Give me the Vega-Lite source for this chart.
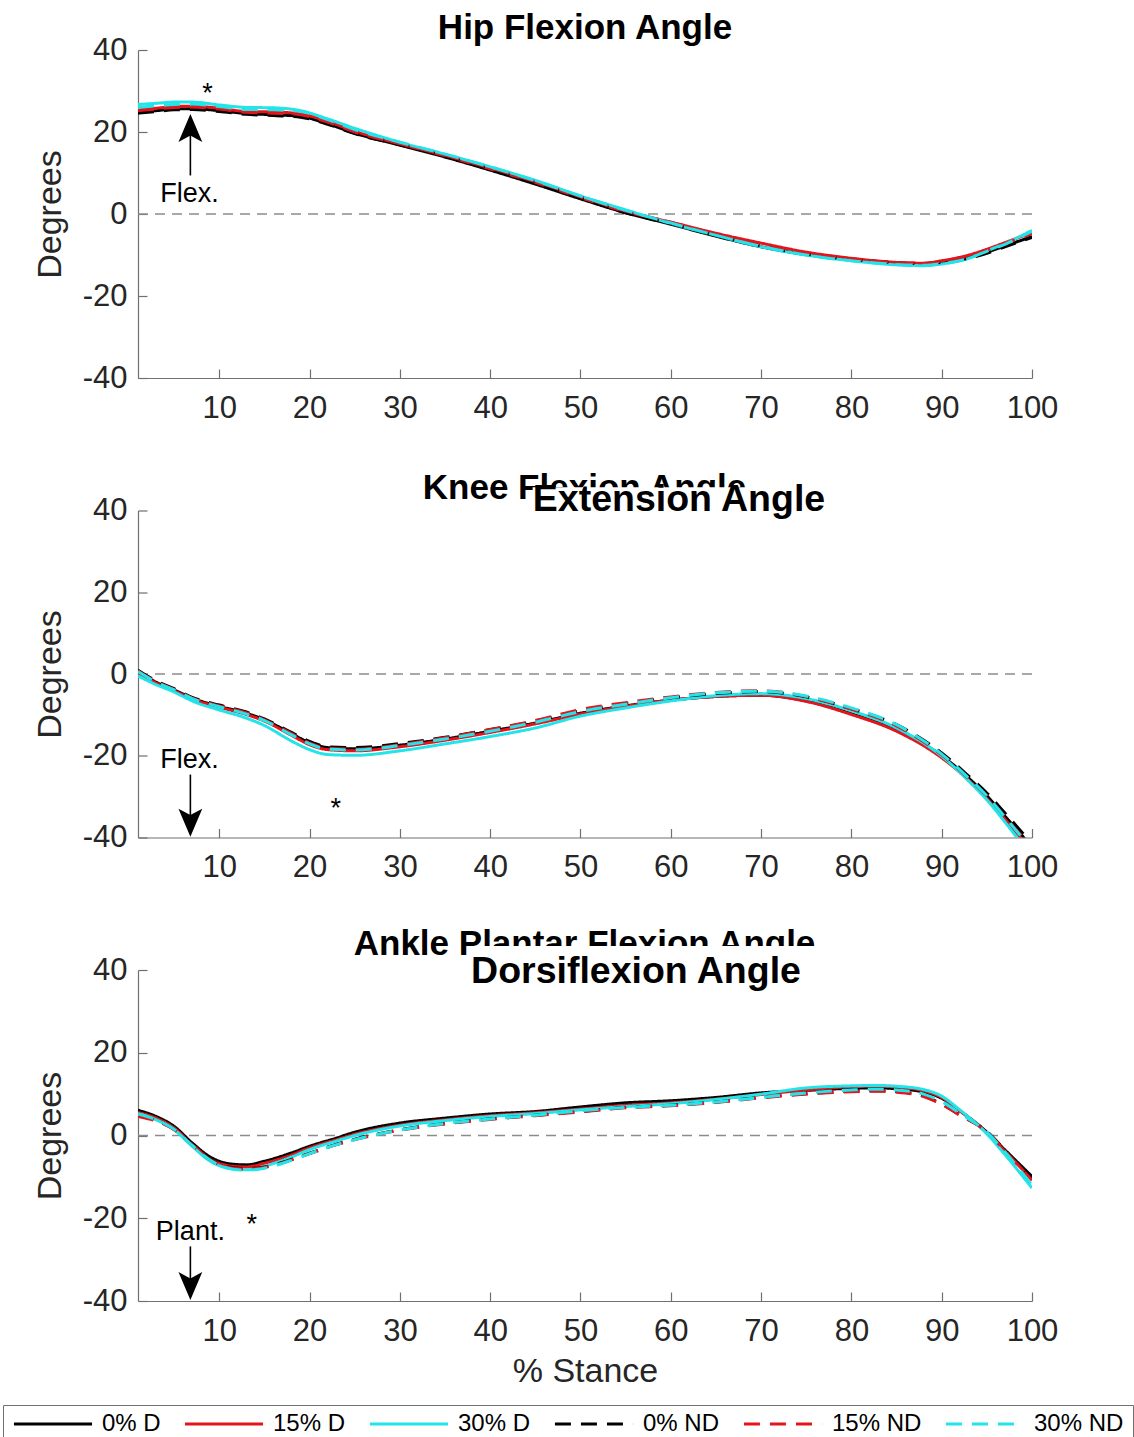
{
  "$schema": "https://vega.github.io/schema/vega-lite/v6.json",
  "autosize": {"type": "pad"},
  "padding": {"left": 2, "top": 10, "right": 2, "bottom": 0},
  "background": "white",
  "datasets": {
    "hip": [
      {"x":1,"0% D":24.8,"15% D":25.4,"30% D":26.7,"0% ND":24.6,"15% ND":25.2,"30% ND":26.0},
      {"x":3,"0% D":25.2,"15% D":25.8,"30% D":27.0,"0% ND":25.0,"15% ND":25.6,"30% ND":26.4},
      {"x":5,"0% D":25.6,"15% D":26.2,"30% D":27.3,"0% ND":25.4,"15% ND":26.0,"30% ND":26.7},
      {"x":7,"0% D":25.7,"15% D":26.3,"30% D":27.3,"0% ND":25.5,"15% ND":26.1,"30% ND":26.8},
      {"x":10,"0% D":25.2,"15% D":25.8,"30% D":26.6,"0% ND":25.0,"15% ND":25.6,"30% ND":26.2},
      {"x":13,"0% D":24.5,"15% D":25.0,"30% D":26.0,"0% ND":24.3,"15% ND":24.8,"30% ND":25.5},
      {"x":16,"0% D":24.2,"15% D":24.9,"30% D":25.9,"0% ND":24.0,"15% ND":24.6,"30% ND":25.4},
      {"x":19,"0% D":23.8,"15% D":24.4,"30% D":25.2,"0% ND":23.6,"15% ND":24.2,"30% ND":25.0},
      {"x":22,"0% D":22.0,"15% D":22.6,"30% D":23.2,"0% ND":21.9,"15% ND":22.4,"30% ND":23.0},
      {"x":25,"0% D":19.7,"15% D":20.2,"30% D":20.9,"0% ND":19.6,"15% ND":20.0,"30% ND":20.6},
      {"x":30,"0% D":16.8,"15% D":17.1,"30% D":17.5,"0% ND":16.9,"15% ND":17.1,"30% ND":17.5},
      {"x":35,"0% D":13.9,"15% D":14.2,"30% D":14.6,"0% ND":14.1,"15% ND":14.3,"30% ND":14.6},
      {"x":40,"0% D":10.7,"15% D":11.0,"30% D":11.5,"0% ND":10.9,"15% ND":11.2,"30% ND":11.5},
      {"x":45,"0% D":7.3,"15% D":7.7,"30% D":8.2,"0% ND":7.5,"15% ND":7.9,"30% ND":8.1},
      {"x":50,"0% D":3.7,"15% D":4.0,"30% D":4.4,"0% ND":3.9,"15% ND":4.2,"30% ND":4.4},
      {"x":55,"0% D":0.3,"15% D":0.6,"30% D":1.0,"0% ND":0.3,"15% ND":0.7,"30% ND":0.9},
      {"x":60,"0% D":-2.5,"15% D":-2.0,"30% D":-2.3,"0% ND":-2.3,"15% ND":-2.0,"30% ND":-2.2},
      {"x":65,"0% D":-5.4,"15% D":-4.7,"30% D":-5.2,"0% ND":-5.2,"15% ND":-4.9,"30% ND":-5.2},
      {"x":70,"0% D":-8.0,"15% D":-7.1,"30% D":-8.0,"0% ND":-7.8,"15% ND":-7.4,"30% ND":-7.9},
      {"x":75,"0% D":-9.9,"15% D":-9.3,"30% D":-10.0,"0% ND":-9.8,"15% ND":-9.5,"30% ND":-10.0},
      {"x":80,"0% D":-11.2,"15% D":-10.8,"30% D":-11.4,"0% ND":-11.1,"15% ND":-10.9,"30% ND":-11.4},
      {"x":85,"0% D":-12.0,"15% D":-11.8,"30% D":-12.4,"0% ND":-11.9,"15% ND":-11.8,"30% ND":-12.3},
      {"x":88,"0% D":-12.2,"15% D":-12.0,"30% D":-12.6,"0% ND":-12.1,"15% ND":-12.0,"30% ND":-12.5},
      {"x":90,"0% D":-11.8,"15% D":-11.4,"30% D":-12.2,"0% ND":-11.8,"15% ND":-11.5,"30% ND":-12.1},
      {"x":93,"0% D":-10.6,"15% D":-10.0,"30% D":-10.8,"0% ND":-10.8,"15% ND":-10.2,"30% ND":-10.8},
      {"x":95,"0% D":-9.3,"15% D":-8.6,"30% D":-9.0,"0% ND":-9.6,"15% ND":-8.8,"30% ND":-9.1},
      {"x":97,"0% D":-7.8,"15% D":-7.0,"30% D":-7.2,"0% ND":-8.0,"15% ND":-7.2,"30% ND":-7.4},
      {"x":100,"0% D":-5.5,"15% D":-4.5,"30% D":-4.0,"0% ND":-5.7,"15% ND":-4.8,"30% ND":-4.2}
    ],
    "knee": [
      {"x":1,"0% D":0.6,"15% D":0.4,"30% D":-0.5,"0% ND":0.9,"15% ND":0.7,"30% ND":0.6},
      {"x":3,"0% D":-2.0,"15% D":-2.2,"30% D":-2.6,"0% ND":-1.7,"15% ND":-1.9,"30% ND":-2.0},
      {"x":5,"0% D":-3.9,"15% D":-4.1,"30% D":-4.4,"0% ND":-3.6,"15% ND":-3.8,"30% ND":-3.9},
      {"x":7,"0% D":-5.9,"15% D":-6.1,"30% D":-6.6,"0% ND":-5.7,"15% ND":-5.9,"30% ND":-6.0},
      {"x":10,"0% D":-7.9,"15% D":-8.1,"30% D":-8.8,"0% ND":-7.6,"15% ND":-7.8,"30% ND":-8.0},
      {"x":13,"0% D":-9.6,"15% D":-9.9,"30% D":-10.8,"0% ND":-9.3,"15% ND":-9.5,"30% ND":-9.8},
      {"x":15,"0% D":-11.2,"15% D":-11.5,"30% D":-12.6,"0% ND":-11.0,"15% ND":-11.2,"30% ND":-11.4},
      {"x":18,"0% D":-14.6,"15% D":-15.0,"30% D":-16.4,"0% ND":-14.3,"15% ND":-14.6,"30% ND":-14.9},
      {"x":20,"0% D":-16.8,"15% D":-17.3,"30% D":-18.5,"0% ND":-16.5,"15% ND":-16.9,"30% ND":-17.1},
      {"x":22,"0% D":-18.0,"15% D":-18.5,"30% D":-19.7,"0% ND":-17.8,"15% ND":-18.2,"30% ND":-18.4},
      {"x":25,"0% D":-18.3,"15% D":-18.8,"30% D":-19.9,"0% ND":-18.0,"15% ND":-18.4,"30% ND":-18.6},
      {"x":30,"0% D":-17.4,"15% D":-17.8,"30% D":-18.8,"0% ND":-17.0,"15% ND":-17.3,"30% ND":-17.5},
      {"x":35,"0% D":-15.9,"15% D":-16.2,"30% D":-17.1,"0% ND":-15.5,"15% ND":-15.6,"30% ND":-15.9},
      {"x":40,"0% D":-14.0,"15% D":-14.3,"30% D":-15.3,"0% ND":-13.6,"15% ND":-13.6,"30% ND":-14.0},
      {"x":45,"0% D":-12.0,"15% D":-12.2,"30% D":-13.2,"0% ND":-11.5,"15% ND":-11.4,"30% ND":-11.8},
      {"x":50,"0% D":-9.6,"15% D":-9.8,"30% D":-10.3,"0% ND":-9.0,"15% ND":-8.7,"30% ND":-9.2},
      {"x":55,"0% D":-7.8,"15% D":-7.9,"30% D":-8.3,"0% ND":-7.2,"15% ND":-7.0,"30% ND":-7.4},
      {"x":60,"0% D":-6.4,"15% D":-6.4,"30% D":-6.6,"0% ND":-5.8,"15% ND":-5.6,"30% ND":-5.8},
      {"x":65,"0% D":-5.5,"15% D":-5.5,"30% D":-5.3,"0% ND":-4.8,"15% ND":-4.5,"30% ND":-4.6},
      {"x":70,"0% D":-5.2,"15% D":-5.2,"30% D":-4.8,"0% ND":-4.3,"15% ND":-4.1,"30% ND":-4.2},
      {"x":75,"0% D":-6.6,"15% D":-6.7,"30% D":-6.0,"0% ND":-5.6,"15% ND":-5.5,"30% ND":-5.4},
      {"x":80,"0% D":-9.7,"15% D":-9.9,"30% D":-9.0,"0% ND":-8.5,"15% ND":-8.6,"30% ND":-8.3},
      {"x":85,"0% D":-13.8,"15% D":-14.0,"30% D":-13.2,"0% ND":-12.4,"15% ND":-12.7,"30% ND":-12.4},
      {"x":90,"0% D":-20.0,"15% D":-20.5,"30% D":-20.1,"0% ND":-19.3,"15% ND":-19.8,"30% ND":-19.6},
      {"x":93,"0% D":-25.5,"15% D":-26.0,"30% D":-26.2,"0% ND":-25.0,"15% ND":-25.6,"30% ND":-25.5},
      {"x":95,"0% D":-29.8,"15% D":-30.5,"30% D":-30.8,"0% ND":-29.1,"15% ND":-29.9,"30% ND":-29.8},
      {"x":97,"0% D":-34.8,"15% D":-35.5,"30% D":-36.2,"0% ND":-34.0,"15% ND":-34.9,"30% ND":-35.0},
      {"x":99,"0% D":-39.8,"15% D":-40.8,"30% D":-42.0,"0% ND":-39.0,"15% ND":-40.0,"30% ND":-40.3},
      {"x":100,"0% D":-42.5,"15% D":-43.5,"30% D":-45.0,"0% ND":-41.5,"15% ND":-42.5,"30% ND":-43.0}
    ],
    "ankle": [
      {"x":1,"0% D":6.1,"15% D":5.6,"30% D":5.3,"0% ND":5.0,"15% ND":4.6,"30% ND":5.2},
      {"x":3,"0% D":4.6,"15% D":4.2,"30% D":3.8,"0% ND":3.6,"15% ND":3.5,"30% ND":3.8},
      {"x":5,"0% D":2.2,"15% D":1.8,"30% D":1.4,"0% ND":1.5,"15% ND":1.4,"30% ND":1.5},
      {"x":7,"0% D":-1.8,"15% D":-2.2,"30% D":-2.6,"0% ND":-2.2,"15% ND":-2.3,"30% ND":-2.4},
      {"x":9,"0% D":-5.2,"15% D":-5.7,"30% D":-6.2,"0% ND":-5.8,"15% ND":-5.9,"30% ND":-6.0},
      {"x":11,"0% D":-6.8,"15% D":-7.3,"30% D":-7.9,"0% ND":-7.6,"15% ND":-7.7,"30% ND":-7.9},
      {"x":13,"0% D":-7.1,"15% D":-7.6,"30% D":-8.3,"0% ND":-8.0,"15% ND":-8.1,"30% ND":-8.4},
      {"x":15,"0% D":-6.2,"15% D":-6.7,"30% D":-7.4,"0% ND":-7.6,"15% ND":-7.7,"30% ND":-7.9},
      {"x":18,"0% D":-4.2,"15% D":-4.7,"30% D":-5.2,"0% ND":-5.8,"15% ND":-5.9,"30% ND":-6.0},
      {"x":20,"0% D":-2.6,"15% D":-3.0,"30% D":-3.4,"0% ND":-4.3,"15% ND":-4.4,"30% ND":-4.4},
      {"x":23,"0% D":-0.6,"15% D":-1.0,"30% D":-1.3,"0% ND":-2.1,"15% ND":-2.2,"30% ND":-2.2},
      {"x":25,"0% D":0.8,"15% D":0.3,"30% D":0.0,"0% ND":-0.9,"15% ND":-1.0,"30% ND":-1.0},
      {"x":30,"0% D":3.0,"15% D":2.5,"30% D":2.3,"0% ND":1.4,"15% ND":1.3,"30% ND":1.3},
      {"x":35,"0% D":4.2,"15% D":3.8,"30% D":3.6,"0% ND":2.9,"15% ND":2.8,"30% ND":2.9},
      {"x":40,"0% D":5.2,"15% D":4.8,"30% D":4.6,"0% ND":4.0,"15% ND":3.9,"30% ND":4.0},
      {"x":45,"0% D":5.8,"15% D":5.5,"30% D":5.3,"0% ND":4.9,"15% ND":4.8,"30% ND":4.9},
      {"x":50,"0% D":6.9,"15% D":6.4,"30% D":6.2,"0% ND":5.8,"15% ND":5.7,"30% ND":6.0},
      {"x":55,"0% D":7.9,"15% D":7.3,"30% D":7.0,"0% ND":6.8,"15% ND":6.7,"30% ND":6.8},
      {"x":60,"0% D":8.4,"15% D":7.9,"30% D":7.7,"0% ND":7.3,"15% ND":7.2,"30% ND":7.3},
      {"x":65,"0% D":9.2,"15% D":8.8,"30% D":8.7,"0% ND":8.1,"15% ND":8.0,"30% ND":8.1},
      {"x":70,"0% D":10.3,"15% D":9.9,"30% D":10.0,"0% ND":9.2,"15% ND":9.1,"30% ND":9.2},
      {"x":75,"0% D":10.9,"15% D":11.0,"30% D":11.5,"0% ND":10.1,"15% ND":10.0,"30% ND":10.3},
      {"x":80,"0% D":11.4,"15% D":11.8,"30% D":12.0,"0% ND":10.7,"15% ND":10.6,"30% ND":11.0},
      {"x":83,"0% D":11.5,"15% D":11.9,"30% D":12.1,"0% ND":10.8,"15% ND":10.7,"30% ND":11.2},
      {"x":85,"0% D":11.3,"15% D":11.7,"30% D":11.9,"0% ND":10.6,"15% ND":10.5,"30% ND":11.0},
      {"x":88,"0% D":10.5,"15% D":10.8,"30% D":11.1,"0% ND":9.5,"15% ND":9.4,"30% ND":10.0},
      {"x":90,"0% D":9.0,"15% D":9.2,"30% D":9.5,"0% ND":7.6,"15% ND":7.5,"30% ND":8.2},
      {"x":92,"0% D":6.0,"15% D":6.0,"30% D":6.2,"0% ND":5.0,"15% ND":4.9,"30% ND":5.4},
      {"x":95,"0% D":0.8,"15% D":0.6,"30% D":0.4,"0% ND":1.0,"15% ND":0.9,"30% ND":0.8},
      {"x":97,"0% D":-3.5,"15% D":-3.8,"30% D":-4.6,"0% ND":-3.5,"15% ND":-3.7,"30% ND":-4.0},
      {"x":100,"0% D":-9.9,"15% D":-10.7,"30% D":-12.7,"0% ND":-10.5,"15% ND":-10.8,"30% ND":-12.0}
    ]
  },
  "spacing": 132.5,
  "bounds": "flush",
  "resolve": {"scale": {"color": "shared", "strokeDash": "shared", "strokeWidth": "shared"}, "legend": {"color": "shared", "strokeDash": "shared"}},
  "vconcat": [
    {
      "width": 894, "height": 328,
      "title": {"text": "Hip Flexion Angle", "offset": -11.5},
      "layer": [
        {"data": {"values": [{}]}, "mark": {"type": "rule", "color": "#8c8c8c", "strokeDash": [10, 7], "strokeWidth": 1.5}, "encoding": {"y": {"datum": 0, "type": "quantitative"}}},
        {
          "data": {"name": "hip"},
          "transform": [{"fold": ["0% D", "15% D", "30% D", "0% ND", "15% ND", "30% ND"], "as": ["series", "y"]}],
          "mark": {"type": "line", "clip": true, "interpolate": "monotone"},
          "encoding": {
            "x": {"field": "x", "type": "quantitative", "scale": {"domain": [1, 100], "nice": false, "zero": false}, "axis": {"values": [10,20,30,40,50,60,70,80,90,100], "title": null}},
            "y": {"field": "y", "type": "quantitative", "scale": {"domain": [-40, 40], "nice": false}, "axis": {"values": [-40,-20,0,20,40], "title": "Degrees", "labelExpr": "'' + datum.value"}},
            "color": {"field": "series", "type": "nominal", "scale": {"domain": ["0% D", "15% D", "30% D", "0% ND", "15% ND", "30% ND"], "range": ["#000000", "#e3151c", "#22e4e9", "#000000", "#e3151c", "#22e4e9"]}, "legend": {"title": null}},
            "strokeDash": {"field": "series", "type": "nominal", "scale": {"domain": ["0% D", "15% D", "30% D", "0% ND", "15% ND", "30% ND"], "range": [[1, 0], [1, 0], [1, 0], [16, 10], [16, 10], [16, 10]]}, "legend": {"title": null}},
            "strokeWidth": {"field": "series", "type": "ordinal", "scale": {"domain": ["0% D", "15% D", "30% D", "0% ND", "15% ND", "30% ND"], "range": [3, 3, 4, 3.2, 3.2, 3.6]}, "legend": null}
          }
        },
        {"data": {"values": [{"x": 6.8, "y": 9.4, "y2": 21}]}, "mark": {"type": "rule", "color": "black", "strokeWidth": 1.6}, "encoding": {"x": {"field": "x", "type": "quantitative"}, "y": {"field": "y", "type": "quantitative"}, "y2": {"field": "y2"}}},
        {"data": {"values": [{"x": 6.8, "y": 21.0}]}, "mark": {"type": "point", "shape": "M0,-1L0.85,1L0,0.55L-0.85,1Z", "size": 784, "filled": true, "color": "black", "opacity": 1, "strokeWidth": 0}, "encoding": {"x": {"field": "x", "type": "quantitative"}, "y": {"field": "y", "type": "quantitative"}}},
        {"data": {"values": [{"x": 6.7, "y": 2.9, "label": "Flex."}, {"x": 8.7, "y": 27.2, "label": "*"}]}, "mark": {"type": "text", "fontSize": 27, "align": "center", "baseline": "alphabetic", "color": "black"}, "encoding": {"x": {"field": "x", "type": "quantitative"}, "y": {"field": "y", "type": "quantitative"}, "text": {"field": "label"}}}
      ]
    },
    {
      "width": 894, "height": 327,
      "title": {"text": "Extension Angle", "fontSize": 37.5, "dx": 94, "offset": -47},
      "layer": [
        {"data": {"values": [{"x": 50.45, "y": 42.7, "label": "Knee Flexion Angle"}]}, "mark": {"type": "text", "fontSize": 35, "fontWeight": "bold", "align": "center", "baseline": "alphabetic", "color": "black"}, "encoding": {"x": {"field": "x", "type": "quantitative"}, "y": {"field": "y", "type": "quantitative"}, "text": {"field": "label"}}},
        {"data": {"values": [{"x": 44.7, "x2": 78, "y": 36.8, "y2": 45.7}]}, "mark": {"type": "rect", "color": "white", "opacity": 1}, "encoding": {"x": {"field": "x", "type": "quantitative"}, "x2": {"field": "x2"}, "y": {"field": "y", "type": "quantitative"}, "y2": {"field": "y2"}}},
        {"data": {"values": [{}]}, "mark": {"type": "rule", "color": "#8c8c8c", "strokeDash": [10, 7], "strokeWidth": 1.5}, "encoding": {"y": {"datum": 0, "type": "quantitative"}}},
        {
          "data": {"name": "knee"},
          "transform": [{"fold": ["0% D", "15% D", "30% D", "0% ND", "15% ND", "30% ND"], "as": ["series", "y"]}],
          "mark": {"type": "line", "clip": true, "interpolate": "monotone"},
          "encoding": {
            "x": {"field": "x", "type": "quantitative", "scale": {"domain": [1, 100], "nice": false, "zero": false}, "axis": {"values": [10,20,30,40,50,60,70,80,90,100], "title": null}},
            "y": {"field": "y", "type": "quantitative", "scale": {"domain": [-40, 40], "nice": false}, "axis": {"values": [-40,-20,0,20,40], "title": "Degrees", "labelExpr": "'' + datum.value"}},
            "color": {"field": "series", "type": "nominal", "scale": {"domain": ["0% D", "15% D", "30% D", "0% ND", "15% ND", "30% ND"], "range": ["#000000", "#e3151c", "#22e4e9", "#000000", "#e3151c", "#22e4e9"]}, "legend": {"title": null}},
            "strokeDash": {"field": "series", "type": "nominal", "scale": {"domain": ["0% D", "15% D", "30% D", "0% ND", "15% ND", "30% ND"], "range": [[1, 0], [1, 0], [1, 0], [16, 10], [16, 10], [16, 10]]}, "legend": {"title": null}},
            "strokeWidth": {"field": "series", "type": "ordinal", "scale": {"domain": ["0% D", "15% D", "30% D", "0% ND", "15% ND", "30% ND"], "range": [3, 3, 4, 3.2, 3.2, 3.6]}, "legend": null}
          }
        },
        {"data": {"values": [{"x": 6.8, "y": -24.6, "y2": -36}]}, "mark": {"type": "rule", "color": "black", "strokeWidth": 1.6}, "encoding": {"x": {"field": "x", "type": "quantitative"}, "y": {"field": "y", "type": "quantitative"}, "y2": {"field": "y2"}}},
        {"data": {"values": [{"x": 6.8, "y": -36.4}]}, "mark": {"type": "point", "shape": "M0,1L0.85,-1L0,-0.55L-0.85,-1Z", "size": 784, "filled": true, "color": "black", "opacity": 1, "strokeWidth": 0}, "encoding": {"x": {"field": "x", "type": "quantitative"}, "y": {"field": "y", "type": "quantitative"}}},
        {"data": {"values": [{"x": 6.7, "y": -22.9, "label": "Flex."}, {"x": 22.9, "y": -34.9, "label": "*"}]}, "mark": {"type": "text", "fontSize": 27, "align": "center", "baseline": "alphabetic", "color": "black"}, "encoding": {"x": {"field": "x", "type": "quantitative"}, "y": {"field": "y", "type": "quantitative"}, "text": {"field": "label"}}}
      ]
    },
    {
      "width": 894, "height": 331,
      "title": {"text": "Dorsiflexion Angle", "fontSize": 37.5, "dx": 51, "offset": -64},
      "layer": [
        {"data": {"values": [{"x": 50.45, "y": 43.7, "label": "Ankle Plantar Flexion Angle"}]}, "mark": {"type": "text", "fontSize": 35, "fontWeight": "bold", "align": "center", "baseline": "alphabetic", "color": "black"}, "encoding": {"x": {"field": "x", "type": "quantitative"}, "y": {"field": "y", "type": "quantitative"}, "text": {"field": "label"}}},
        {"data": {"values": [{"x": 38.0, "x2": 78, "y": 34.5, "y2": 45.8}]}, "mark": {"type": "rect", "color": "white", "opacity": 1}, "encoding": {"x": {"field": "x", "type": "quantitative"}, "x2": {"field": "x2"}, "y": {"field": "y", "type": "quantitative"}, "y2": {"field": "y2"}}},
        {"data": {"values": [{}]}, "mark": {"type": "rule", "color": "#8c8c8c", "strokeDash": [10, 7], "strokeWidth": 1.5}, "encoding": {"y": {"datum": 0, "type": "quantitative"}}},
        {
          "data": {"name": "ankle"},
          "transform": [{"fold": ["0% D", "15% D", "30% D", "0% ND", "15% ND", "30% ND"], "as": ["series", "y"]}],
          "mark": {"type": "line", "clip": true, "interpolate": "monotone"},
          "encoding": {
            "x": {"field": "x", "type": "quantitative", "scale": {"domain": [1, 100], "nice": false, "zero": false}, "axis": {"values": [10,20,30,40,50,60,70,80,90,100], "title": "% Stance"}},
            "y": {"field": "y", "type": "quantitative", "scale": {"domain": [-40, 40], "nice": false}, "axis": {"values": [-40,-20,0,20,40], "title": "Degrees", "labelExpr": "'' + datum.value"}},
            "color": {"field": "series", "type": "nominal", "scale": {"domain": ["0% D", "15% D", "30% D", "0% ND", "15% ND", "30% ND"], "range": ["#000000", "#e3151c", "#22e4e9", "#000000", "#e3151c", "#22e4e9"]}, "legend": {"title": null}},
            "strokeDash": {"field": "series", "type": "nominal", "scale": {"domain": ["0% D", "15% D", "30% D", "0% ND", "15% ND", "30% ND"], "range": [[1, 0], [1, 0], [1, 0], [16, 10], [16, 10], [16, 10]]}, "legend": {"title": null}},
            "strokeWidth": {"field": "series", "type": "ordinal", "scale": {"domain": ["0% D", "15% D", "30% D", "0% ND", "15% ND", "30% ND"], "range": [3, 3, 4, 3.2, 3.2, 3.6]}, "legend": null}
          }
        },
        {"data": {"values": [{"x": 6.8, "y": -26.8, "y2": -36}]}, "mark": {"type": "rule", "color": "black", "strokeWidth": 1.6}, "encoding": {"x": {"field": "x", "type": "quantitative"}, "y": {"field": "y", "type": "quantitative"}, "y2": {"field": "y2"}}},
        {"data": {"values": [{"x": 6.8, "y": -36.4}]}, "mark": {"type": "point", "shape": "M0,1L0.85,-1L0,-0.55L-0.85,-1Z", "size": 784, "filled": true, "color": "black", "opacity": 1, "strokeWidth": 0}, "encoding": {"x": {"field": "x", "type": "quantitative"}, "y": {"field": "y", "type": "quantitative"}}},
        {"data": {"values": [{"x": 6.8, "y": -25.2, "label": "Plant."}, {"x": 13.6, "y": -23.5, "label": "*"}]}, "mark": {"type": "text", "fontSize": 27, "align": "center", "baseline": "alphabetic", "color": "black"}, "encoding": {"x": {"field": "x", "type": "quantitative"}, "y": {"field": "y", "type": "quantitative"}, "text": {"field": "label"}}}
      ]
    }
  ],
  "config": {
    "font": "Liberation Sans",
    "view": {"stroke": null},
    "axis": {"grid": false, "domainColor": "#707070", "domainWidth": 1.2, "tickColor": "#707070", "tickWidth": 1.2, "tickSize": -9, "labelFont": "Liberation Sans", "labelFontSize": 31, "labelColor": "#262626", "titleFont": "Liberation Sans", "titleFontSize": 34, "titleFontWeight": "normal", "titleColor": "#262626"},
    "axisX": {"labelPadding": 24, "titlePadding": 8, "labelFlush": false},
    "axisY": {"labelPadding": 20, "titlePadding": 15},
    "title": {"font": "Liberation Sans", "fontSize": 35, "fontWeight": "bold", "color": "#000000", "anchor": "middle", "frame": "group", "baseline": "alphabetic", "offset": 10},
    "legend": {"orient": "none", "legendX": -135, "legendY": 1355, "direction": "horizontal", "columns": 6, "symbolType": "stroke", "symbolSize": 6100, "symbolStrokeWidth": 2.5, "clipHeight": 20, "labelFont": "Liberation Sans", "labelFontSize": 24, "labelColor": "#000000", "labelOffset": 8, "columnPadding": 22, "padding": 9, "strokeColor": "#707070", "fillColor": "white"}
  }
}
